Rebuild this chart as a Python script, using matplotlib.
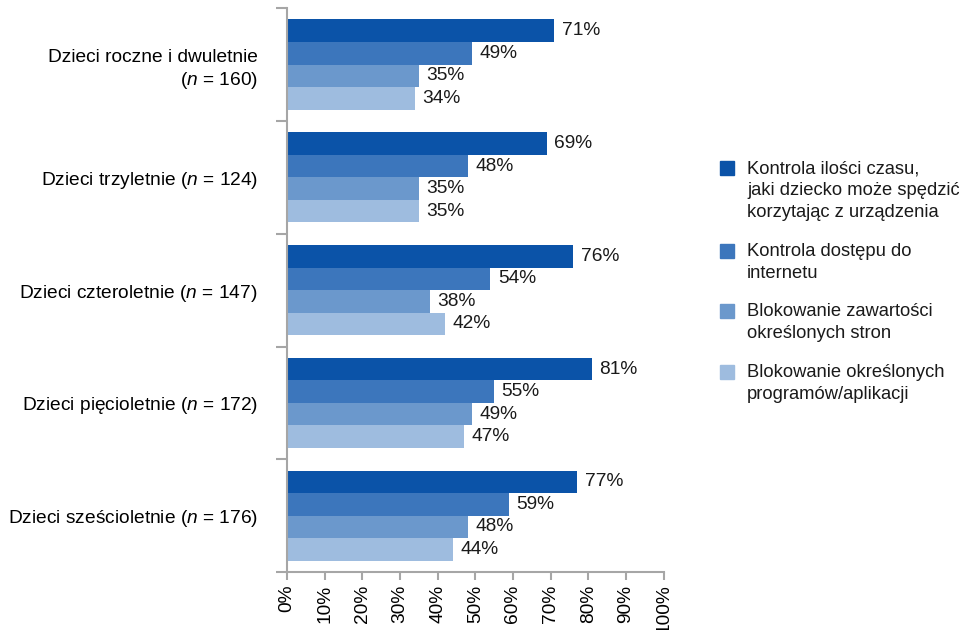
import matplotlib.pyplot as plt
import numpy as np
from matplotlib.patches import Rectangle

plt.rcParams["font.family"] = ["Liberation Sans", "DejaVu Sans"]
plt.rcParams["mathtext.fontset"] = "custom"
plt.rcParams["mathtext.rm"] = "Liberation Sans"
plt.rcParams["mathtext.it"] = "Liberation Sans:italic"

categories = [
    "Dzieci roczne i dwuletnie\n($\\mathit{n}$ = 160)",
    "Dzieci trzyletnie ($\\mathit{n}$ = 124)",
    "Dzieci czteroletnie ($\\mathit{n}$ = 147)",
    "Dzieci pięcioletnie ($\\mathit{n}$ = 172)",
    "Dzieci sześcioletnie ($\\mathit{n}$ = 176)",
]
series_names = [
    "Kontrola ilości czasu,\njaki dziecko może spędzić\nkorzytając z urządzenia",
    "Kontrola dostępu do\ninternetu",
    "Blokowanie zawartości\nokreślonych stron",
    "Blokowanie określonych\nprogramów/aplikacji",
]
czas = [71, 69, 76, 81, 77]
internet = [49, 48, 54, 55, 59]
strony = [35, 35, 38, 49, 48]
aplikacje = [34, 35, 42, 47, 44]
series = [czas, internet, strony, aplikacje]
colors = ["#0b53a8", "#3c76bc", "#6b98cc", "#9ebcdf"]

FS = 13.8

fig = plt.figure(figsize=(9.66, 6.3), dpi=100)
ax = fig.add_axes([0.297, 0.092, 0.39, 0.895])

n_groups = len(categories)
y = np.arange(n_groups)
h = 0.2
for j, vals in enumerate(series):
    pos = y + (j - 1.5) * h
    ax.barh(pos, vals, height=h, color=colors[j], linewidth=0)
    for yi, v in zip(pos, vals):
        ax.text(v + 2.0, yi, f"{v}%", va="center", ha="left", fontsize=FS, color="#1a1a1a")

ax.set_xlim(0, 100)
ax.set_ylim(n_groups - 0.5, -0.5)
ax.set_xticks(np.arange(0, 101, 10))
ax.set_xticklabels([f"{t}%" for t in range(0, 101, 10)], rotation=90, fontsize=FS)

# group boundary ticks on the left axis, labels at group centres
ax.set_yticks(np.arange(-0.5, n_groups, 1.0))
ax.set_yticklabels([])
ax.set_yticks(y, minor=True)
ax.set_yticklabels(categories, minor=True, fontsize=FS, ha="right")
for lbl in ax.get_yticklabels(minor=True):
    lbl.set_linespacing(1.3)
ax.tick_params(axis="y", which="minor", length=0, pad=21)
ax.tick_params(axis="y", which="major", length=8, width=1.5, color="#a6a6a6")
ax.tick_params(axis="x", length=6, width=1.5, color="#a6a6a6", pad=3)

for s in ["top", "right"]:
    ax.spines[s].set_visible(False)
for s in ["left", "bottom"]:
    ax.spines[s].set_color("#a6a6a6")
    ax.spines[s].set_linewidth(1.5)

# legend drawn at the right, square aligned to the first text line
W, H = 966, 630
leg_y = [168, 251, 311, 372]
for j, name in enumerate(series_names):
    yc = leg_y[j]
    fig.patches.append(Rectangle((720 / W, 1 - (yc + 7) / H), 14 / W, 14 / H,
                                 transform=fig.transFigure, color=colors[j]))
    fig.text(747 / W, 1 - (yc - 8) / H, name, ha="left", va="top",
             fontsize=13.2, linespacing=1.4, color="#1a1a1a")

fig.savefig("out.png", dpi=100)
